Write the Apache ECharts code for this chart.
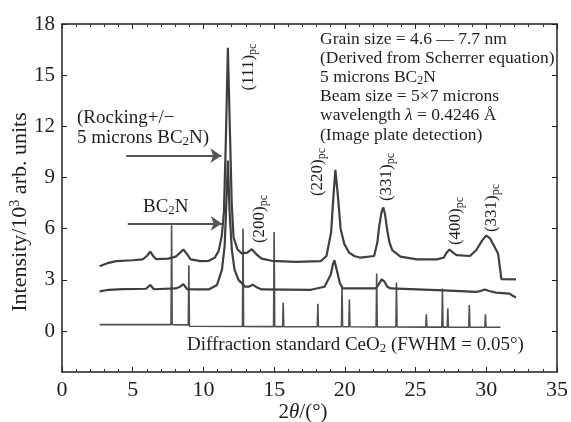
<!DOCTYPE html>
<html><head><meta charset="utf-8">
<script src="https://cdn.jsdelivr.net/npm/echarts@6/dist/echarts.min.js"></script>
<style>html,body{margin:0;padding:0;background:#fff}#c{width:571px;height:422px}</style>
</head><body><div id="c"></div>
<script>
// Axis ticks
const xTicks = [0, 5, 10, 15, 20, 25, 30, 35];
const yTicks = [0, 3, 6, 9, 12, 15, 18];

// Top trace: Rocking +/- 5 microns BC2N
const rockX = [2.66, 3.3, 3.83, 5.0, 5.7, 6.0, 6.24, 6.45, 6.64, 7.5, 8.04, 8.35, 8.58, 8.8, 9.1, 9.8, 10.38, 10.8, 11.08, 11.3, 11.45, 11.58, 11.73, 11.88, 12.0, 12.13, 12.4, 12.72, 13.1, 13.42, 13.75, 14.12, 14.82, 16.5, 18.3, 18.7, 19.03, 19.2, 19.33, 19.5, 19.7, 19.96, 20.3, 20.67, 21.1, 22.07, 22.3, 22.42, 22.6, 22.72, 22.85, 22.98, 23.15, 23.35, 23.93, 25.1, 26.5, 26.98, 27.2, 27.4, 27.65, 27.9, 28.84, 29.3, 29.7, 30.0, 30.25, 30.48, 30.83, 31.07, 32.1];
const rockY = [3.8, 4.0, 4.1, 4.15, 4.2, 4.4, 4.65, 4.4, 4.22, 4.25, 4.36, 4.6, 4.78, 4.55, 4.2, 4.1, 4.12, 4.3, 4.7, 5.6, 7.0, 11.0, 16.6, 11.5, 7.5, 5.5, 4.8, 4.55, 4.6, 4.8, 4.5, 4.25, 4.12, 4.05, 4.1, 4.4, 5.8, 8.0, 9.45, 8.0, 6.0, 5.1, 4.6, 4.4, 4.3, 4.4, 5.2, 6.1, 7.0, 7.25, 6.8, 6.0, 5.2, 4.75, 4.36, 4.2, 4.2, 4.3, 4.6, 4.78, 4.6, 4.45, 4.4, 4.75, 5.3, 5.6, 5.45, 5.1, 4.55, 3.05, 3.03];

// Middle trace: BC2N
const bcX = [2.66, 3.3, 4.3, 5.94, 6.24, 6.5, 8.04, 8.35, 8.58, 8.85, 9.5, 10.38, 10.96, 11.31, 11.5, 11.62, 11.73, 11.85, 12.01, 12.2, 12.48, 12.95, 13.2, 13.49, 13.8, 14.12, 17.6, 18.56, 19.0, 19.15, 19.26, 19.45, 19.65, 19.85, 22.2, 22.4, 22.6, 22.8, 23.0, 23.24, 26.98, 29.3, 29.6, 29.9, 30.2, 30.7, 31.65, 31.9, 32.1];
const bcY = [2.33, 2.42, 2.46, 2.48, 2.7, 2.45, 2.5, 2.6, 2.75, 2.45, 2.44, 2.44, 2.7, 3.6, 5.0, 7.5, 10.0, 7.0, 4.75, 3.6, 3.0, 2.6, 2.6, 2.72, 2.55, 2.44, 2.42, 2.6, 3.3, 3.9, 4.15, 3.5, 2.8, 2.5, 2.5, 2.75, 3.03, 2.9, 2.6, 2.5, 2.38, 2.3, 2.35, 2.44, 2.35, 2.25, 2.2, 2.05, 1.97];

// Bottom trace: diffraction standard CeO2
const ceX = [2.66, 7.71, 7.75, 7.79, 8.93, 8.97, 9.01, 12.76, 12.8, 12.84, 14.96, 15.0, 15.04, 15.6, 15.64, 15.68, 18.05, 18.09, 18.13, 19.76, 19.8, 19.84, 20.28, 20.32, 20.36, 22.21, 22.25, 22.29, 23.61, 23.65, 23.69, 25.72, 25.76, 25.8, 26.86, 26.9, 26.94, 27.24, 27.28, 27.32, 28.76, 28.8, 28.84, 29.9, 29.94, 29.98, 31.0];
const ceY = [0.38, 0.38, 6.2, 0.38, 0.36, 3.85, 0.28, 0.27, 6.0, 0.27, 0.26, 5.8, 0.26, 0.26, 1.66, 0.26, 0.25, 1.6, 0.25, 0.25, 2.56, 0.25, 0.25, 1.85, 0.25, 0.24, 3.38, 0.24, 0.24, 2.85, 0.24, 0.23, 0.98, 0.23, 0.23, 2.5, 0.23, 0.23, 1.33, 0.23, 0.22, 1.52, 0.22, 0.22, 0.98, 0.22, 0.22];

const FONT = 'Liberation Serif';
const TXT = '#1e1e1e';
const zip = (xs, ys) => xs.map((x, i) => [x, ys[i]]);

const chart = echarts.init(document.getElementById('c'), null, { renderer: 'canvas' });

function mk(x, y, text, size, align, rot) {
  const e = {
    type: 'text', x: x, y: y, silent: true,
    style: {
      text: text, font: size + 'px "' + FONT + '"', fill: TXT,
      align: align || 'left', verticalAlign: 'middle',
      rich: {
        n: { fontSize: size, fontFamily: FONT, fill: TXT },
        i: { fontSize: size, fontFamily: FONT, fontStyle: 'italic', fill: TXT },
        s: { fontSize: Math.round(size * 0.68), fontFamily: FONT, fill: TXT, padding: [Math.round(size * 0.4), 0, 0, 0] },
        u: { fontSize: Math.round(size * 0.62), fontFamily: FONT, fill: TXT, padding: [0, 0, Math.round(size * 0.45), 0] }
      }
    }
  };
  if (rot) e.rotation = rot;
  return e;
}

const axisLineStyle = { color: '#222', width: 1.5 };
const tickStyle = { color: '#222', width: 1 };

const option = {
  animation: false,
  backgroundColor: '#fff',
  grid: { left: 62, right: 10, top: 24, bottom: 50, containLabel: false },
  xAxis: [
    {
      type: 'value', min: 0, max: 35, interval: 5, position: 'bottom',
      axisLine: { show: true, onZero: false, lineStyle: axisLineStyle },
      axisTick: { show: true, inside: true, length: 5, lineStyle: tickStyle },
      minorTick: { show: true, splitNumber: 5, length: 3, lineStyle: { color: '#333', width: 1 } },
      axisLabel: { margin: 7, fontFamily: FONT, fontSize: 22, color: TXT, formatter: v => xTicks.indexOf(v) >= 0 ? String(v) : '' },
      splitLine: { show: false }
    },
    {
      type: 'value', min: 0, max: 35, interval: 5, position: 'top',
      axisLine: { show: true, onZero: false, lineStyle: axisLineStyle },
      axisTick: { show: true, inside: true, length: 5, lineStyle: tickStyle },
      minorTick: { show: true, splitNumber: 5, length: 3, lineStyle: { color: '#333', width: 1 } },
      axisLabel: { show: false },
      splitLine: { show: false }
    }
  ],
  yAxis: [
    {
      type: 'value', min: -2.4, max: 18, position: 'left',
      axisLine: { show: true, onZero: false, lineStyle: axisLineStyle },
      axisTick: { show: true, inside: true, length: 5, customValues: yTicks, lineStyle: tickStyle },
      axisLabel: { margin: 7, fontFamily: FONT, fontSize: 21, color: TXT, customValues: yTicks },
      splitLine: { show: false }
    },
    {
      type: 'value', min: -2.4, max: 18, position: 'right',
      axisLine: { show: true, onZero: false, lineStyle: axisLineStyle },
      axisTick: { show: true, inside: true, length: 5, customValues: yTicks, lineStyle: tickStyle },
      axisLabel: { show: false, customValues: yTicks },
      splitLine: { show: false }
    }
  ],
  series: [
    {
      name: 'CeO2', type: 'line', data: zip(ceX, ceY), showSymbol: false, symbol: 'none',
      lineStyle: { color: '#505050', width: 1.6 }, z: 2
    },
    {
      name: 'BC2N', type: 'line', data: zip(bcX, bcY), showSymbol: false, symbol: 'none',
      lineStyle: { color: '#3f3f3f', width: 2.2 }, z: 3
    },
    {
      name: 'Rocking', type: 'line', data: zip(rockX, rockY), showSymbol: false, symbol: 'none',
      lineStyle: { color: '#3f3f3f', width: 2.2 }, z: 4,
      markLine: {
        silent: true, symbol: ['none', 'arrow'], symbolSize: 11,
        label: { show: false },
        lineStyle: { color: '#555', width: 2, type: 'solid' },
        emphasis: { disabled: true },
        data: [
          [{ coord: [4.54, 10.28] }, { coord: [11.27, 10.28] }],
          [{ coord: [4.65, 6.31] }, { coord: [11.3, 6.31] }]
        ]
      }
    }
  ],
  graphic: [
    mk(20, 212, '{n|Intensity/10}{u|3}{n| arb. units}', 22, 'center', Math.PI / 2),
    mk(303, 412, '{n|2}{i|θ}{n|/(°)}', 21, 'center'),
    // Info block
    mk(320, 39, '{n|Grain size = 4.6 — 7.7 nm}', 17.5),
    mk(320, 58, '{n|(Derived from Scherrer equation)}', 17.5),
    mk(320, 77, '{n|5 microns BC}{s|2}{n|N}', 17.5),
    mk(320, 96, '{n|Beam size = 5×7 microns}', 17.5),
    mk(320, 115.5, '{n|wavelength }{i|λ}{n| = 0.4246 Å}', 17.5),
    mk(320, 135, '{n|(Image plate detection)}', 17.5),
    // Left annotations
    mk(77, 118, '{n|(Rocking+/−}', 19),
    mk(77, 138, '{n|5 microns BC}{s|2}{n|N)}', 19),
    mk(143, 207, '{n|BC}{s|2}{n|N}', 19),
    // CeO2 label
    mk(187, 345, '{n|Diffraction standard CeO}{s|2}{n| (FWHM = 0.05°)}', 19),
    // Peak labels (rotated)
    mk(249, 67, '{n|(111)}{s|pc}', 17, 'center', Math.PI / 2),
    mk(260, 219, '{n|(200)}{s|pc}', 17, 'center', Math.PI / 2),
    mk(318, 172, '{n|(220)}{s|pc}', 17, 'center', Math.PI / 2),
    mk(387, 177, '{n|(331)}{s|pc}', 17, 'center', Math.PI / 2),
    mk(456, 221, '{n|(400)}{s|pc}', 17, 'center', Math.PI / 2),
    mk(492, 208, '{n|(331)}{s|pc}', 17, 'center', Math.PI / 2)
  ]
};

chart.setOption(option);
</script>
</body></html>
